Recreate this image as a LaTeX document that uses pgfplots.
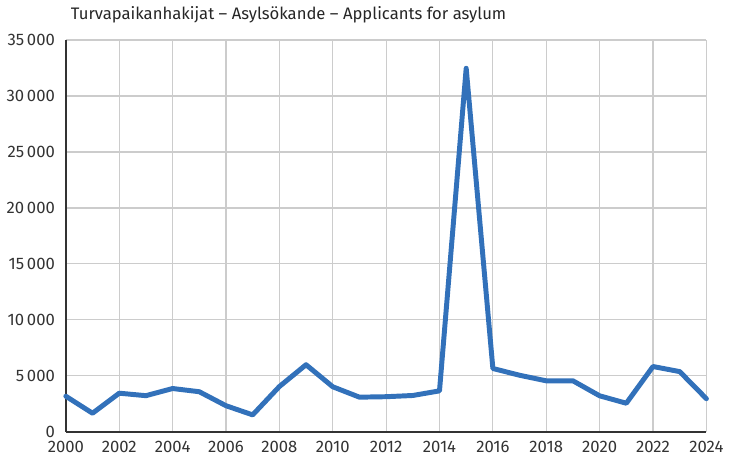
\documentclass[border=0pt]{standalone}
\usepackage{pgfplots}
\pgfplotsset{compat=1.18}
\usepackage{fontspec}
\setmainfont{Fira Sans}
\definecolor{line}{HTML}{3271BA}
\begin{document}
\begin{tikzpicture}
\begin{axis}[
  scale only axis,
  width=323pt, height=197.5pt,
  xmin=2000, xmax=2024, ymin=0, ymax=35000,
  xtick={2000,2002,...,2024},
  ytick={0,5000,...,35000},
  scaled y ticks=false,
  grid=major,
  grid style={line width=0.6pt, color=black!20},
  axis x line*=bottom, axis y line*=left,
  axis line style={line width=0.8pt, color=black!80, -},
  tick style={draw=none},
  /pgf/number format/assume math mode=true,
  x tick label style={/pgf/number format/1000 sep={}, font=\fontsize{8.4}{9}\selectfont, color=black!80},
  y tick label style={/pgf/number format/1000 sep={\,}, font=\fontsize{8.4}{9}\selectfont, color=black!80},
  xticklabel style={yshift=-1pt},
  yticklabel style={xshift=-2pt},
  title={Turvapaikanhakijat – Asylsökande – Applicants for asylum},
  title style={font=\fontsize{8.4}{9}\selectfont, color=black!85, at={(0,1)}, anchor=south west, xshift=-1pt, yshift=-1pt},
  clip=false,
]
\addplot[line, line width=2.5pt, line join=round, line cap=round] coordinates {
(2000,3170) (2001,1651) (2002,3443) (2003,3221) (2004,3861) (2005,3574)
(2006,2324) (2007,1505) (2008,4035) (2009,5988) (2010,4018) (2011,3088)
(2012,3129) (2013,3238) (2014,3651) (2015,32477) (2016,5651) (2017,5046)
(2018,4548) (2019,4550) (2020,3209) (2021,2545) (2022,5827) (2023,5372)
(2024,2950)
};
\end{axis}
\end{tikzpicture}
\end{document}
